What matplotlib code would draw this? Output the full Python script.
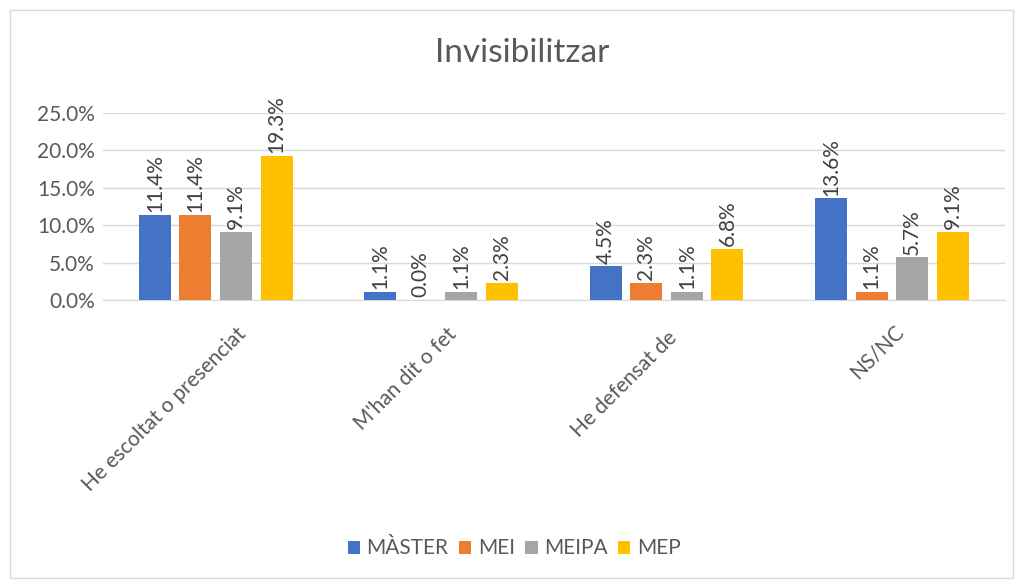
import matplotlib.pyplot as plt
import numpy as np
from matplotlib.patches import Rectangle
import matplotlib.transforms as mtransforms

plt.rcParams['font.family'] = ['Lato', 'DejaVu Sans']

# data
categories = ['He escoltat o presenciat', "M'han dit o fet", 'He defensat de', 'NS/NC']
series = ['MÀSTER', 'MEI', 'MEIPA', 'MEP']
master = [11.4, 1.1, 4.5, 13.6]
mei = [11.4, 0.0, 2.3, 1.1]
meipa = [9.1, 1.1, 1.1, 5.7]
mep = [19.3, 2.3, 6.8, 9.1]
colors = ['#4472C4', '#ED7D31', '#A5A5A5', '#FFC000']

fig = plt.figure(figsize=(10.22, 5.81), dpi=100)
ax = fig.add_axes([0.1008, 0.4836, 0.8822, 0.3219])

# chart border
fig.patches.append(Rectangle((0.0098, 0.005), 0.981, 0.978, transform=fig.transFigure,
                             fill=False, edgecolor='#D9D9D9', linewidth=1))

x = np.arange(len(categories))
pitch = 0.18
width = 0.142
for i, (name, vals) in enumerate(zip(series, [master, mei, meipa, mep])):
    pos = x + (i - 1.5) * pitch
    ax.bar(pos, vals, width, color=colors[i], label=name, zorder=3)
    for p, v in zip(pos, vals):
        ax.annotate('%.1f%%' % v, (p, v), xytext=(0, 2), textcoords='offset points',
                    rotation=90, ha='center', va='bottom', fontsize=15, color='#404040')

ax.set_xlim(-0.5, 3.5)
ax.set_ylim(0, 25)
ax.set_yticks(np.arange(0, 26, 5))
ax.set_yticklabels(['%.1f%%' % t for t in np.arange(0, 26, 5)])
ax.yaxis.grid(True, color='#D9D9D9', linewidth=1, zorder=0)
ax.set_axisbelow(True)
for s in ['top', 'right', 'left']:
    ax.spines[s].set_visible(False)
ax.spines['bottom'].set_color('#D9D9D9')
ax.tick_params(axis='both', length=0, labelsize=15, colors='#595959')
ax.tick_params(axis='y', pad=6)
ax.tick_params(axis='x', pad=0)

ax.set_xticks(x)
ax.set_xticklabels(categories, rotation=45, ha='right', va='top', rotation_mode='anchor')
# shift of each rotated label's end point, in pixels
label_shift = [(20, -24), (5, -24), (0, -28), (2, -21)]
for lab, (dx, dy) in zip(ax.get_xticklabels(), label_shift):
    off = mtransforms.ScaledTranslation(dx / 100, dy / 100, fig.dpi_scale_trans)
    lab.set_transform(lab.get_transform() + off)

fig.text(0.511, 0.909, 'Invisibilitzar', ha='center', va='center', fontsize=24, color='#595959')

fig.legend(loc='center', bbox_to_anchor=(0.503, 0.056), ncol=4, frameon=False,
           fontsize=15, handlelength=0.6, handleheight=0.6, handletextpad=0.3,
           columnspacing=0.5, labelcolor='#595959')

fig.savefig('out.png', dpi=100)
